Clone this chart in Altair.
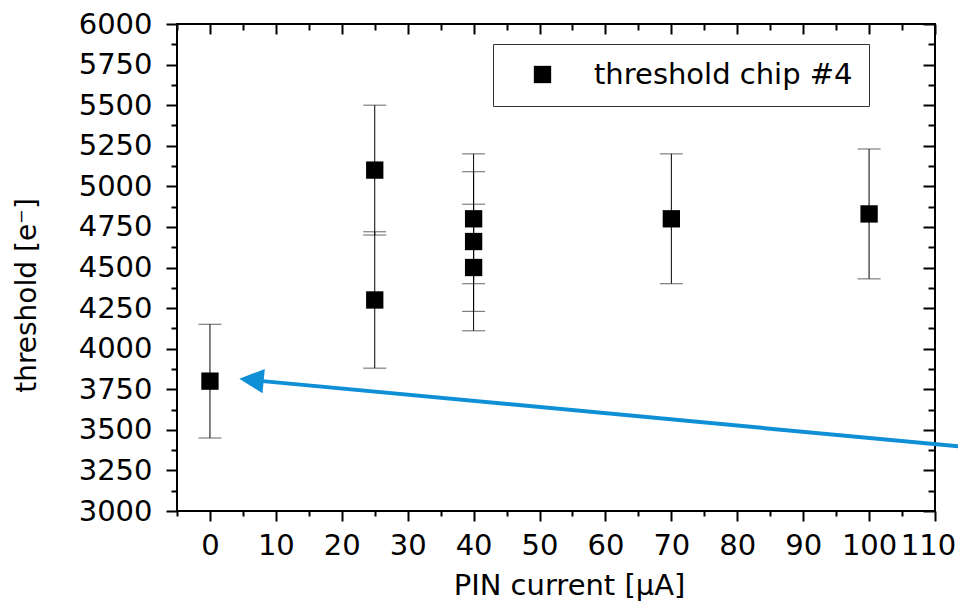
import altair as alt
import pandas as pd

# ---- data ----
pin_current = [0, 25, 25, 40, 40, 40, 70, 100]
threshold = [3800, 5100, 4300, 4800, 4660, 4500, 4800, 4830]
threshold_err = [350, 400, 420, 400, 430, 390, 400, 400]
series_name = "threshold chip #4"

x_major = [0, 10, 20, 30, 40, 50, 60, 70, 80, 90, 100, 110]
x_minor = [-5, 5, 15, 25, 35, 45, 55, 65, 75, 85, 95, 105]
y_major = [3000, 3250, 3500, 3750, 4000, 4250, 4500, 4750, 5000, 5250, 5500, 5750, 6000]
y_minor = [3125, 3375, 3625, 3875, 4125, 4375, 4625, 4875, 5125, 5375, 5625, 5875]

# annotation arrow (data coordinates)
arrow_x = [8.0, 115.0]
arrow_y = [3800, 3393]
head_x = [6.3]
head_y = [3807]
head_angle = 5.3

df = pd.DataFrame({
    "x": pin_current,
    "y": threshold,
    "lo": [v - e for v, e in zip(threshold, threshold_err)],
    "hi": [v + e for v, e in zip(threshold, threshold_err)],
    "series": [series_name] * len(pin_current),
})
arrow_df = pd.DataFrame({"x": arrow_x, "y": arrow_y})
head_df = pd.DataFrame({"x": head_x, "y": head_y})

FONT = "DejaVu Sans"
FS = 29
xs = alt.Scale(domain=[-5, 110], nice=False, zero=False)
ys = alt.Scale(domain=[3000, 6000], nice=False, zero=False)


def xaxis(orient, values, size, offset=0, labels=False, title=None):
    kw = dict(orient=orient, values=values, tickSize=size, tickWidth=2, tickColor="black",
              domain=False, grid=False, labels=labels, offset=offset, title=title)
    if labels:
        kw.update(labelFont=FONT, labelFontSize=FS, labelColor="black", labelPadding=10,
                  labelFlush=False, labelOverlap=False, format="d",
                  labelOffset={"condition": {"test": "datum.value == 110", "value": -7}, "value": 0},
                  titleFont=FONT, titleFontSize=FS, titleFontWeight="normal",
                  titleColor="black", titleBaseline="alphabetic", titleX=392, titleY=83)
    return alt.Axis(**kw)


def yaxis(orient, values, size, offset=0, labels=False, title=None):
    kw = dict(orient=orient, values=values, tickSize=size, tickWidth=2, tickColor="black",
              domain=False, grid=False, labels=labels, offset=offset, title=title)
    if labels:
        kw.update(labelFont=FONT, labelFontSize=FS, labelColor="black", labelPadding=14,
                  labelFlush=False, labelOverlap=False, format="d",
                  titleFont=FONT, titleFontSize=28, titleFontWeight="normal",
                  titleColor="black", titleBaseline="alphabetic", titleAngle=270,
                  titleAlign="center", titleX=-142, titleY=271)
    return alt.Axis(**kw)


base = alt.Chart(df)

rules = base.mark_rule(color="black", strokeWidth=1).encode(
    x=alt.X("x:Q", scale=xs, axis=xaxis("bottom", x_major, 10, labels=True, title="PIN current [µA]")),
    y=alt.Y("lo:Q", scale=ys, axis=yaxis("left", y_major, 11, labels=True, title="threshold [e⁻]")),
    y2="hi:Q",
)

caps_lo = base.mark_tick(color="#222", thickness=1, size=23, orient="horizontal").encode(
    x=alt.X("x:Q", scale=xs, axis=xaxis("bottom", x_minor, 5)),
    y=alt.Y("lo:Q", scale=ys, axis=yaxis("left", y_minor, 6)),
)

caps_hi = base.mark_tick(color="#222", thickness=1, size=23, orient="horizontal").encode(
    x=alt.X("x:Q", scale=xs, axis=xaxis("top", x_major, 10, offset=-10)),
    y=alt.Y("hi:Q", scale=ys, axis=yaxis("right", y_major, 12, offset=-12)),
)

squares = base.mark_square(size=300, opacity=1, filled=True).encode(
    x=alt.X("x:Q", scale=xs, axis=xaxis("top", x_minor, 6, offset=-6)),
    y=alt.Y("y:Q", scale=ys, axis=yaxis("right", y_minor, 7, offset=-7)),
    color=alt.Color(
        "series:N",
        scale=alt.Scale(range=["black"]),
        legend=alt.Legend(
            title=None, orient="none", legendX=316, legendY=20, padding=16,
            strokeColor="#333333", fillColor="white",
            labelFont=FONT, labelFontSize=FS, labelColor="black", labelLimit=600,
            symbolType="square", symbolSize=300, symbolStrokeWidth=0,
            symbolOffset=19, labelOffset=37,
        ),
    ),
)

arrow_line = alt.Chart(arrow_df).mark_line(color="#0F8FD6", strokeWidth=4).encode(
    x=alt.X("x:Q", scale=xs, axis=None),
    y=alt.Y("y:Q", scale=ys, axis=None),
)

arrow_head = alt.Chart(head_df).mark_point(
    shape="M-1,0L1,-1L1,1Z", size=600, filled=True, color="#0F8FD6",
    opacity=1, strokeWidth=0, angle=head_angle,
).encode(
    x=alt.X("x:Q", scale=xs, axis=None),
    y=alt.Y("y:Q", scale=ys, axis=None),
)

chart = (
    alt.layer(rules, caps_lo, caps_hi, squares, arrow_line, arrow_head)
    .resolve_axis(x="independent", y="independent")
    .properties(
        width=758, height=487,
        autosize=alt.AutoSizeParams(type="none"),
        padding={"left": 169, "top": 16, "right": 23, "bottom": 90},
        background="white",
    )
    .configure_view(stroke="black", strokeWidth=2)
)

chart.save("out.html", embed_options={"renderer": "svg", "actions": False})
